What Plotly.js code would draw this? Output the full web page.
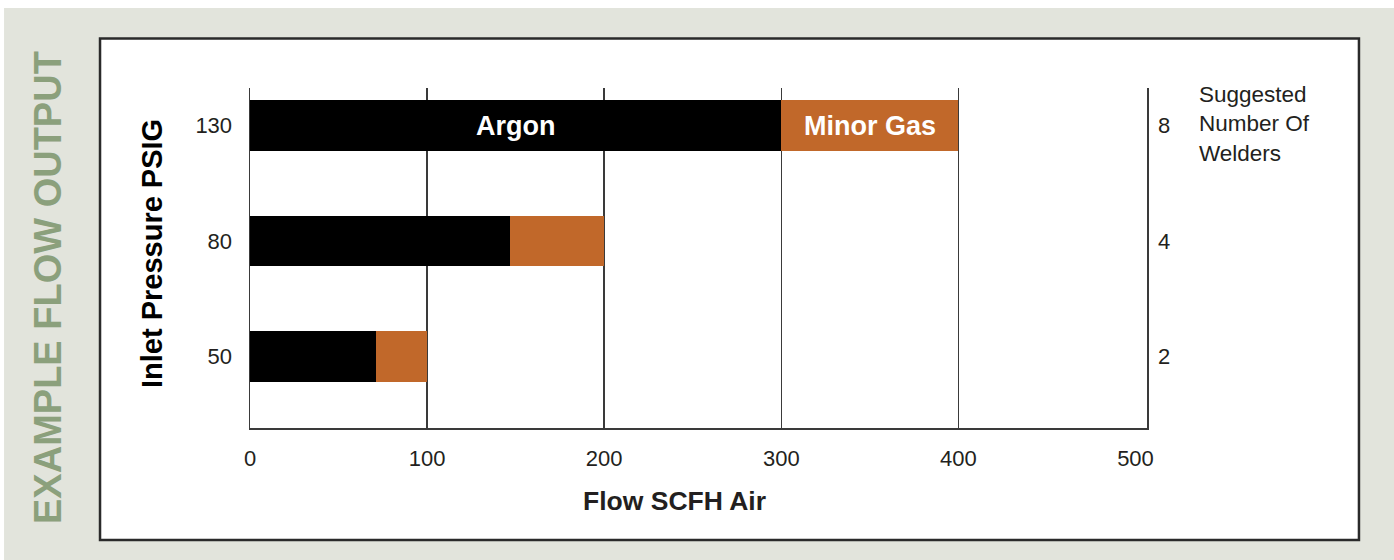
<!DOCTYPE html>
<html>
<head>
<meta charset="utf-8">
<script src="https://cdn.plot.ly/plotly-3.0.1.min.js"></script>
<style>html,body{margin:0;padding:0;background:#fff;}#chart{width:1394px;height:560px;}</style>
</head>
<body>
<div id="chart"></div>
<script>
// ---- data ----
const pressures = ['50', '80', '130'];      // Inlet Pressure PSIG (left axis)
const welders = ['2', '4', '8'];            // Suggested number of welders (right axis)
const argon = [71, 147, 300];               // Argon flow, SCFH air
const minorGas = [29, 53, 100];             // Minor gas flow, SCFH air
const xTicks = [0, 100, 200, 300, 400, 500];
const gridVals = [100, 200, 300, 400];
const seriesNames = ['Argon', 'Minor Gas'];

const FONT = '"Liberation Sans", Arial, Helvetica, sans-serif';
const DARK = '#231f20';
const LINE = '#3a3a3a';
const pos = pressures.map((_, i) => i);
const topIdx = pos.length - 1;

const traces = [
  {type: 'bar', orientation: 'h', name: seriesNames[0], x: argon, y: pos,
   marker: {color: '#000000'}, width: 0.44, hoverinfo: 'x'},
  {type: 'bar', orientation: 'h', name: seriesNames[1], x: minorGas, y: pos,
   marker: {color: '#c1682a'}, width: 0.44, hoverinfo: 'x'},
  // invisible helpers so the overlay axes are drawn
  {type: 'scatter', mode: 'markers', x: argon, y: pos, xaxis: 'x', yaxis: 'y2',
   marker: {opacity: 0}, hoverinfo: 'skip', showlegend: false},
  {type: 'scatter', mode: 'markers', x: argon, y: pos, xaxis: 'x2', yaxis: 'y',
   marker: {opacity: 0}, hoverinfo: 'skip', showlegend: false}
];

const xRange = [0, 506.5];
const yRange = [-0.619, 2.325];

const layout = {
  width: 1394, height: 560,
  margin: {l: 250, r: 247, t: 88, b: 132, pad: 0},
  paper_bgcolor: '#ffffff',
  plot_bgcolor: '#ffffff',
  barmode: 'stack',
  showlegend: false,
  font: {family: FONT, color: DARK},
  xaxis: {
    range: xRange, tickvals: xTicks, ticktext: xTicks.map(String),
    showgrid: false, zeroline: false,
    showline: true, linecolor: LINE, linewidth: 1.5,
    ticks: 'outside', ticklen: 10, tickcolor: 'rgba(0,0,0,0)',
    tickfont: {size: 22, color: DARK, family: FONT}
  },
  xaxis2: {
    overlaying: 'x', anchor: 'y', range: xRange, tickvals: gridVals,
    showgrid: true, gridcolor: LINE, gridwidth: 1.5,
    showticklabels: false, zeroline: false, showline: false, ticks: ''
  },
  yaxis: {
    range: yRange, tickvals: pos, ticktext: pressures,
    showgrid: false, zeroline: false,
    showline: true, linecolor: LINE, linewidth: 1.5,
    ticks: 'outside', ticklen: 12, tickcolor: 'rgba(0,0,0,0)',
    tickfont: {size: 22, color: DARK, family: FONT}
  },
  yaxis2: {
    overlaying: 'y', side: 'right', anchor: 'x', range: yRange,
    tickvals: pos, ticktext: welders,
    showgrid: false, zeroline: false,
    showline: true, linecolor: LINE, linewidth: 1.5,
    ticks: 'outside', ticklen: 5, tickcolor: 'rgba(0,0,0,0)',
    tickfont: {size: 22, color: DARK, family: FONT}
  },
  shapes: [
    {type: 'rect', xref: 'paper', yref: 'paper', layer: 'below',
     x0: -0.2742, x1: 1.2754, y0: -0.3882, y1: 1.2353,
     fillcolor: '#e2e4dc', line: {width: 0}},
    {type: 'rect', xref: 'paper', yref: 'paper', layer: 'below',
     x0: -0.1672, x1: 1.2363, y0: -0.3294, y1: 1.1456,
     fillcolor: '#ffffff', line: {color: '#2a2a2a', width: 2.5}}
  ],
  annotations: [
    {text: '<b>EXAMPLE FLOW OUTPUT</b>', xref: 'paper', yref: 'paper',
     x: -0.2252, y: 0.4147, xanchor: 'center', yanchor: 'middle', textangle: -90,
     showarrow: false, font: {family: FONT, size: 38, color: '#8ba07c'}},
    {text: '<b>Inlet Pressure PSIG</b>', xref: 'paper', yref: 'paper',
     x: -0.1098, y: 0.5132, xanchor: 'center', yanchor: 'middle', textangle: -90,
     showarrow: false, font: {family: FONT, size: 29, color: '#000000'}},
    {text: '<b>Flow SCFH Air</b>', xref: 'paper', yref: 'paper',
     x: 0.4738, y: -0.2147, xanchor: 'center', yanchor: 'middle',
     showarrow: false, font: {family: FONT, size: 26.5, color: DARK}},
    {text: 'Suggested<br>Number Of<br>Welders', xref: 'paper', yref: 'paper',
     x: 1.0557, y: 1.0235, xanchor: 'left', yanchor: 'top', align: 'left',
     showarrow: false, font: {family: FONT, size: 22.5, color: DARK}},
    {text: '<b>' + seriesNames[0] + '</b>', xref: 'x', yref: 'y',
     x: argon[topIdx] / 2, y: pos[topIdx], xanchor: 'center', yanchor: 'middle',
     showarrow: false, font: {family: FONT, size: 27, color: '#ffffff'}},
    {text: '<b>' + seriesNames[1] + '</b>', xref: 'x', yref: 'y',
     x: argon[topIdx] + minorGas[topIdx] / 2, y: pos[topIdx], xanchor: 'center', yanchor: 'middle',
     showarrow: false, font: {family: FONT, size: 27, color: '#ffffff'}}
  ]
};

Plotly.newPlot('chart', traces, layout, {displayModeBar: false, staticPlot: true});
</script>
</body>
</html>
